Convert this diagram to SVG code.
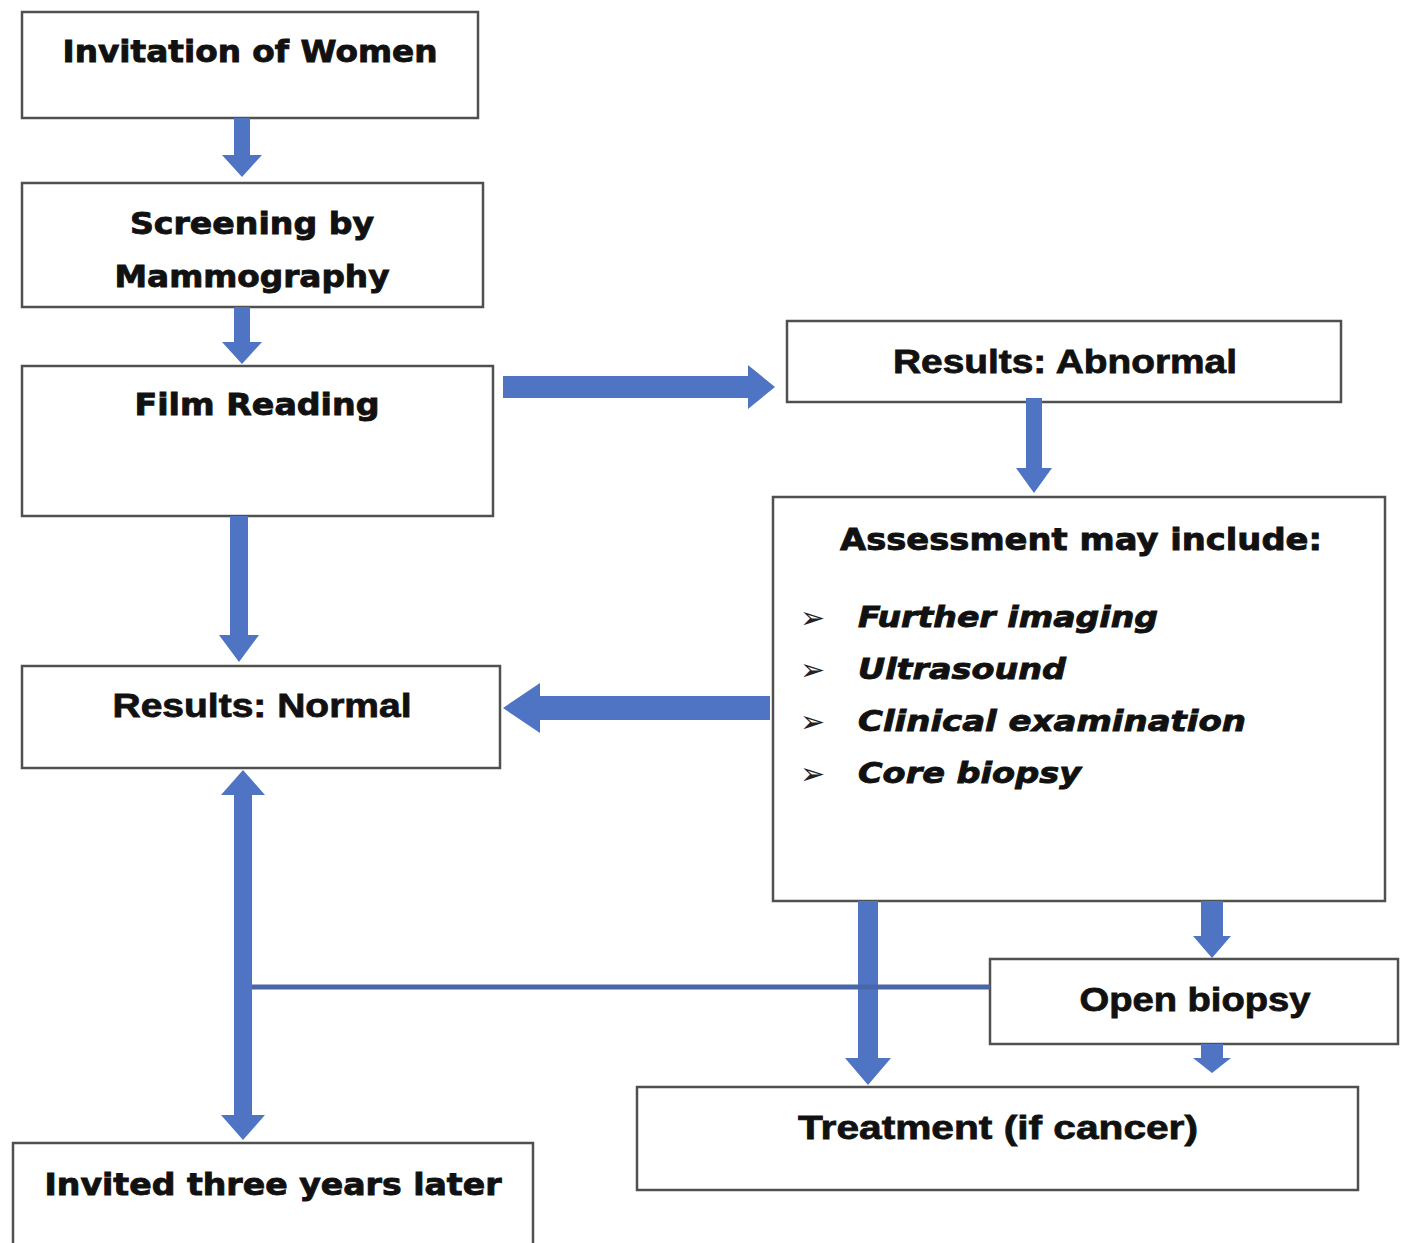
<svg xmlns="http://www.w3.org/2000/svg" width="1402" height="1243" viewBox="0 0 1402 1243">
<style>
.box{fill:#ffffff;stroke:#505050;stroke-width:2.5}
.t{font-family:"DejaVu Sans","Liberation Sans",sans-serif;font-weight:bold;fill:#111;stroke:#111;stroke-width:0.9;text-anchor:middle;font-size:31px}
.n{font-family:"Liberation Sans",Arial,sans-serif;font-weight:bold;fill:#111;stroke:#111;stroke-width:0.8;text-anchor:middle;font-size:34px}
.it{font-family:"DejaVu Sans","Liberation Sans",sans-serif;font-weight:bold;font-style:italic;fill:#111;stroke:#111;stroke-width:0.9;font-size:29px}
.bul{font-family:"DejaVu Sans",sans-serif;fill:#222;font-size:30px}
.arr{fill:#4f74c4}
.ln{stroke:#4866a8;stroke-width:5;fill:none}
</style>
<rect width="1402" height="1243" fill="#ffffff"/>
<g id="n-invitation">
<rect class="box" x="22" y="12" width="456" height="106"/>
<text class="t" x="250" y="62" textLength="375" lengthAdjust="spacingAndGlyphs">Invitation of Women</text>
</g>
<g id="n-screening">
<rect class="box" x="22" y="183" width="461" height="124"/>
<text class="t" x="252" y="234" textLength="244" lengthAdjust="spacingAndGlyphs">Screening by</text>
<text class="t" x="252" y="287" textLength="275" lengthAdjust="spacingAndGlyphs">Mammography</text>
</g>
<g id="n-film">
<rect class="box" x="22" y="366" width="471" height="150"/>
<text class="t" x="257" y="415" textLength="245" lengthAdjust="spacingAndGlyphs">Film Reading</text>
</g>
<g id="n-abnormal">
<rect class="box" x="787" y="321" width="554" height="81"/>
<text class="n" x="1065" y="373" textLength="344" lengthAdjust="spacingAndGlyphs">Results: Abnormal</text>
</g>
<g id="n-assessment">
<rect class="box" x="773" y="497" width="612" height="404"/>
<text class="t" x="1081" y="550" textLength="482" lengthAdjust="spacingAndGlyphs">Assessment may include:</text>
<text class="bul" x="800" y="628">➢</text>
<text class="it" x="858" y="627" textLength="300" lengthAdjust="spacingAndGlyphs">Further imaging</text>
<text class="bul" x="800" y="680">➢</text>
<text class="it" x="858" y="679" textLength="208" lengthAdjust="spacingAndGlyphs">Ultrasound</text>
<text class="bul" x="800" y="732">➢</text>
<text class="it" x="858" y="731" textLength="388" lengthAdjust="spacingAndGlyphs">Clinical examination</text>
<text class="bul" x="800" y="784">➢</text>
<text class="it" x="858" y="783" textLength="223" lengthAdjust="spacingAndGlyphs">Core biopsy</text>
</g>
<g id="n-normal">
<rect class="box" x="22" y="666" width="478" height="102"/>
<text class="n" x="262" y="717" textLength="299" lengthAdjust="spacingAndGlyphs">Results: Normal</text>
</g>
<g id="n-openbiopsy">
<rect class="box" x="990" y="959" width="408" height="85"/>
<text class="n" x="1195" y="1011" textLength="231" lengthAdjust="spacingAndGlyphs">Open biopsy</text>
</g>
<g id="n-treatment">
<rect class="box" x="637" y="1087" width="721" height="103"/>
<text class="n" x="998" y="1139" textLength="400" lengthAdjust="spacingAndGlyphs">Treatment (if cancer)</text>
</g>
<g id="n-invited">
<rect class="box" x="13" y="1143" width="520" height="112"/>
<text class="t" x="273" y="1195" textLength="457" lengthAdjust="spacingAndGlyphs">Invited three years later</text>
</g>
<g id="connectors">
<polygon class="arr" points="234,118 250,118 250,155 262,155 242,177 222,155 234,155"/>
<polygon class="arr" points="234,307 250,307 250,342 262,342 242,364 222,342 234,342"/>
<polygon class="arr" points="230,516 248,516 248,635 259,635 239,662 219,635 230,635"/>
<polygon class="arr" points="503,376 748,376 748,365 775,387 748,409 748,398 503,398"/>
<polygon class="arr" points="1026,398 1042,398 1042,468 1052,468 1034,493 1016,468 1026,468"/>
<polygon class="arr" points="770,696 540,696 540,683 503,708 540,733 540,720 770,720"/>
<polygon class="arr" points="243,770 265,795 252,795 252,1115 265,1115 243,1140 221,1115 234,1115 234,795 221,795"/>
<polygon class="arr" points="858,901 878,901 878,1058 891,1058 868,1085 845,1058 858,1058"/>
<line class="ln" x1="252" y1="987" x2="990" y2="987"/>
<polygon class="arr" points="1201,901 1223,901 1223,936 1231,936 1212,958 1193,936 1201,936"/>
<polygon class="arr" points="1201,1044 1223,1044 1223,1058 1231,1058 1212,1073 1193,1058 1201,1058"/>
</g>
</svg>
